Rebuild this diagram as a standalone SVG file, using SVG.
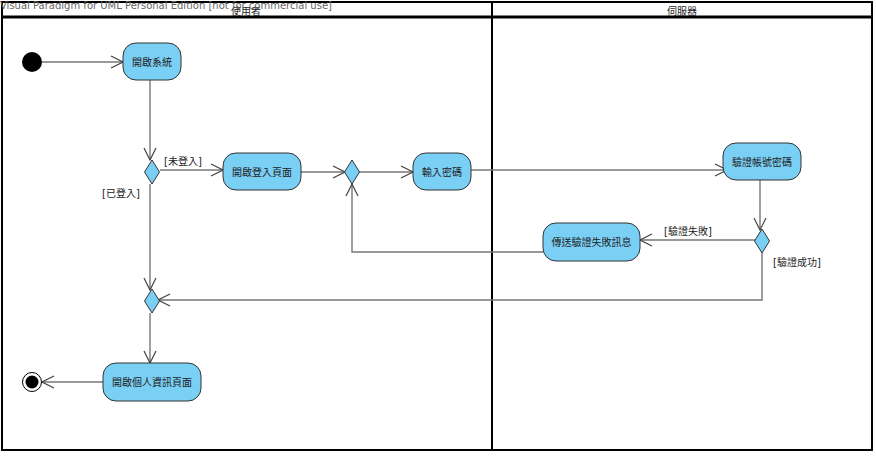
<svg xmlns="http://www.w3.org/2000/svg" width="876" height="456" viewBox="0 0 876 456">
  <defs>
    <style>
      text { font-family: "DejaVu Sans", "Noto Sans CJK TC", sans-serif; font-size: 10px; fill: #222; }
      .lane { fill: none; stroke: #000; stroke-width: 2; }
      .action { fill: #7acff5; stroke: #333; stroke-width: 1; }
      .decision { fill: #7acff5; stroke: #333; stroke-width: 1; }
      .flow { fill: none; stroke: #777; stroke-width: 1.4; marker-end: url(#open); }
      .label { font-size: 10px; }
      .mark { font-size: 10px; fill: #666; }
    </style>
    <marker id="open" viewBox="0 0 14 14" refX="13" refY="7" markerWidth="14" markerHeight="14" markerUnits="userSpaceOnUse" orient="auto">
      <path d="M1,1 L13,7 L1,13" fill="none" stroke="#444" stroke-width="1.2"/>
    </marker>
  </defs>

  <!-- swimlanes -->
  <g id="lanes">
    <rect class="lane" x="2" y="2" width="870" height="448"/>
    <line x1="2" y1="17" x2="872" y2="17" stroke="#000" stroke-width="3"/>
    <line class="lane" x1="492" y1="2" x2="492" y2="450"/>
    <text x="246" y="15" text-anchor="middle">使用者</text>
    <text x="682" y="15" text-anchor="middle">伺服器</text>
    <text class="mark" x="0" y="9">Visual Paradigm for UML Personal Edition [not for commercial use]</text>
  </g>

  <!-- control flows -->
  <g id="connectors">
    <line class="flow" x1="42" y1="62" x2="123" y2="62"/>
    <line class="flow" x1="150" y1="80" x2="150" y2="160"/>
    <line class="flow" x1="160" y1="170" x2="223" y2="170"/>
    <text class="label" x="183" y="165" text-anchor="middle">[未登入]</text>
    <line class="flow" x1="150" y1="184" x2="150" y2="290"/>
    <text class="label" x="121" y="197" text-anchor="middle">[已登入]</text>
    <line class="flow" x1="301" y1="172" x2="345" y2="172"/>
    <line class="flow" x1="359" y1="172" x2="413" y2="172"/>
    <line class="flow" x1="471" y1="170" x2="727" y2="170"/>
    <line class="flow" x1="760" y1="180" x2="760" y2="230"/>
    <line class="flow" x1="755" y1="240" x2="640" y2="240"/>
    <text class="label" x="688" y="235" text-anchor="middle">[驗證失敗]</text>
    <polyline class="flow" points="543,252 352,252 352,184"/>
    <polyline class="flow" points="762,253 762,300 158,300"/>
    <text class="label" x="797" y="266" text-anchor="middle">[驗證成功]</text>
    <line class="flow" x1="150" y1="313" x2="150" y2="363"/>
    <line class="flow" x1="103" y1="382" x2="42" y2="382"/>
  </g>

  <g id="initial">
    <circle cx="32" cy="62" r="10" fill="#000"/>
  </g>

  <g id="open-system">
    <rect class="action" x="123" y="43" width="58" height="37" rx="13"/>
    <text x="152" y="66" text-anchor="middle">開啟系統</text>
  </g>

  <g id="decision-login">
    <polygon class="decision" points="152,160 159.5,172 152,184 144.5,172"/>
  </g>

  <g id="open-login-page">
    <rect class="action" x="223" y="153" width="78" height="37" rx="13"/>
    <text x="262" y="176" text-anchor="middle">開啟登入頁面</text>
  </g>

  <g id="merge-input">
    <polygon class="decision" points="352,160 359.5,172 352,184 344.5,172"/>
  </g>

  <g id="enter-password">
    <rect class="action" x="413" y="153" width="58" height="37" rx="13"/>
    <text x="442" y="176" text-anchor="middle">輸入密碼</text>
  </g>

  <g id="verify-account">
    <rect class="action" x="723" y="143" width="78" height="37" rx="13"/>
    <text x="762" y="166" text-anchor="middle">驗證帳號密碼</text>
  </g>

  <g id="decision-verify">
    <polygon class="decision" points="762,229 769.5,241 762,253 754.5,241"/>
  </g>

  <g id="send-failure">
    <rect class="action" x="543" y="223" width="97" height="38" rx="13"/>
    <text x="591.5" y="246" text-anchor="middle">傳送驗證失敗訊息</text>
  </g>

  <g id="merge-profile">
    <polygon class="decision" points="152,289 159.5,301 152,313 144.5,301"/>
  </g>

  <g id="open-profile-page">
    <rect class="action" x="103" y="363" width="98" height="38" rx="13"/>
    <text x="152" y="386" text-anchor="middle">開啟個人資訊頁面</text>
  </g>

  <g id="final">
    <circle cx="32" cy="382" r="9.5" fill="#fff" stroke="#000" stroke-width="1"/>
    <circle cx="32" cy="382" r="6.5" fill="#000"/>
  </g>
</svg>
